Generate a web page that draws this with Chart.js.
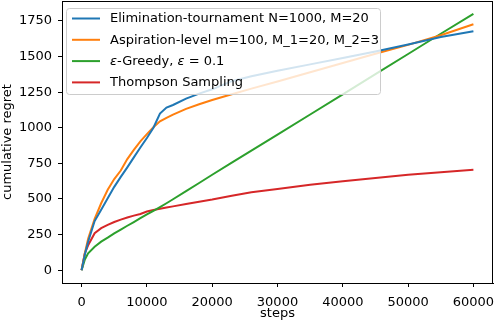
<!DOCTYPE html>
<html>
<head>
<meta charset="utf-8">
<script src="https://cdn.jsdelivr.net/npm/chart.js@4.4.1/dist/chart.umd.min.js"></script>
<style>
  body { margin: 0; background: #fff; }
  #wrap { position: relative; width: 494px; height: 324px; }
  #frame { position: absolute; box-sizing: border-box; border: 1px solid #000; pointer-events: none; }
</style>
</head>
<body>
<div id="wrap">
  <canvas id="regretChart" width="494" height="324"></canvas>
  <div id="frame"></div>
</div>
<script>
// sample points shared by all four runs
const steps = [0, 500, 1000, 2000, 3000, 4000, 5000, 6000, 7000, 8000, 9000, 10000, 11000, 12000, 13000, 14000,
    16000, 18000, 20000, 23000, 26000, 30000, 35000, 40000, 45000, 50000, 55000, 60000];

const elimination = [0, 110, 200, 345, 425, 505, 585, 655, 722, 792, 861, 928, 1000, 1100, 1142, 1160,
    1205, 1240, 1270, 1327, 1362, 1400, 1445, 1490, 1535, 1585, 1637, 1678];
const aspiration = [0, 120, 220, 360, 470, 565, 640, 700, 780, 845, 905, 955, 1003, 1045, 1070, 1092,
    1133, 1165, 1195, 1235, 1275, 1325, 1390, 1455, 1520, 1582, 1650, 1727];
const epsGreedy = [0, 75, 118, 165, 200, 228, 258, 285, 312, 338, 365, 392, 417, 443, 470, 498,
    555, 612, 670, 755, 840, 952, 1093, 1235, 1377, 1518, 1660, 1800];
const thompson = [0, 120, 175, 260, 295, 318, 338, 355, 370, 383, 395, 412, 422, 431, 440, 448,
    465, 481, 496, 522, 547, 570, 600, 625, 648, 670, 688, 705];

const xTicks = [0, 10000, 20000, 30000, 40000, 50000, 60000];
const yTicks = [0, 250, 500, 750, 1000, 1250, 1500, 1750];

// legend text pieces: [text, italic]
const seriesNames = [
    [['Elimination-tournament N=1000, M=20', false]],
    [['Aspiration-level m=100, M_1=20, M_2=3', false]],
    [['ε', true], ['-Greedy, ', false], ['ε', true], [' = 0.1', false]],
    [['Thompson Sampling', false]]
];
const seriesColors = ['#1f77b4', '#ff7f0e', '#2ca02c', '#d62728'];
const seriesValues = [elimination, aspiration, epsGreedy, thompson];

const FONT = '13px "DejaVu Sans"';

const toPoints = (vals) => steps.map((s, i) => ({ x: s, y: vals[i] }));

// legend box in the upper left, over the lines
const legendBox = {
    id: 'legendBox',
    afterDatasetsDraw(chart) {
        const ctx = chart.ctx;
        ctx.save();
        ctx.beginPath();
        ctx.roundRect(66.5, 8.5, 314, 86, 3);
        ctx.fillStyle = 'rgba(255,255,255,0.8)';
        ctx.fill();
        ctx.strokeStyle = '#cccccc';
        ctx.lineWidth = 1;
        ctx.stroke();

        ctx.textBaseline = 'middle';
        ctx.fillStyle = '#000';
        seriesNames.forEach((parts, i) => {
            const y = 18.5 + i * 21.3;
            ctx.beginPath();
            ctx.moveTo(72, y);
            ctx.lineTo(100, y);
            ctx.strokeStyle = seriesColors[i];
            ctx.lineWidth = 2;
            ctx.stroke();
            let x = 110;
            parts.forEach(([txt, italic]) => {
                ctx.font = (italic ? 'italic ' : '') + FONT;
                ctx.fillText(txt, x, y + 0.5);
                x += ctx.measureText(txt).width;
            });
        });
        ctx.restore();
    }
};

const chart = new Chart(document.getElementById('regretChart'), {
    type: 'line',
    data: {
        datasets: seriesValues.map((vals, i) => ({
            label: seriesNames[i].map(p => p[0]).join(''),
            data: toPoints(vals),
            borderColor: seriesColors[i],
            backgroundColor: seriesColors[i],
            borderWidth: 2,
            pointRadius: 0,
            tension: 0,
            fill: false
        }))
    },
    options: {
        responsive: false,
        animation: false,
        layout: { autoPadding: false, padding: { top: 1, right: 1, left: 0, bottom: 0 } },
        plugins: { legend: { display: false }, tooltip: { enabled: false } },
        scales: {
            x: {
                type: 'linear',
                min: -3000,
                max: 63000,
                afterBuildTicks: (s) => { s.ticks = xTicks.map(v => ({ value: v })); },
                afterFit: (s) => { s.height = 41; s.paddingLeft = 0; s.paddingRight = 0; },
                border: { display: true, color: '#000', width: 1 },
                grid: { drawOnChartArea: false, drawTicks: true, tickLength: 4, color: '#000' },
                ticks: { font: { family: 'DejaVu Sans', size: 13 }, color: '#000', padding: 8,
                    maxRotation: 0, autoSkip: false, callback: v => String(v) },
                title: { display: true, text: 'steps', font: { family: 'DejaVu Sans', size: 13 },
                    color: '#000', padding: { top: 0, bottom: 3 } }
            },
            y: {
                type: 'linear',
                min: -90,
                max: 1890,
                afterBuildTicks: (s) => { s.ticks = yTicks.map(v => ({ value: v })); },
                afterFit: (s) => { s.width = 62; s.paddingTop = 0; s.paddingBottom = 0; },
                border: { display: true, color: '#000', width: 1 },
                grid: { drawOnChartArea: false, drawTicks: true, tickLength: 4, color: '#000' },
                ticks: { font: { family: 'DejaVu Sans', size: 13 }, color: '#000', padding: 6,
                    autoSkip: false, callback: v => String(v) },
                title: { display: true, text: 'cumulative regret', font: { family: 'DejaVu Sans', size: 13 },
                    color: '#000', padding: { top: 0, bottom: 0 } }
            }
        }
    },
    plugins: [legendBox]
});

// box around the plot area (matplotlib spines), placed from the chart's own layout
const area = chart.chartArea;
const frame = document.getElementById('frame');
frame.style.left = Math.round(area.left) + 'px';
frame.style.top = Math.round(area.top) + 'px';
frame.style.width = (Math.round(area.right) - Math.round(area.left)) + 'px';
frame.style.height = (Math.round(area.bottom) - Math.round(area.top) + 1) + 'px';
</script>
</body>
</html>
